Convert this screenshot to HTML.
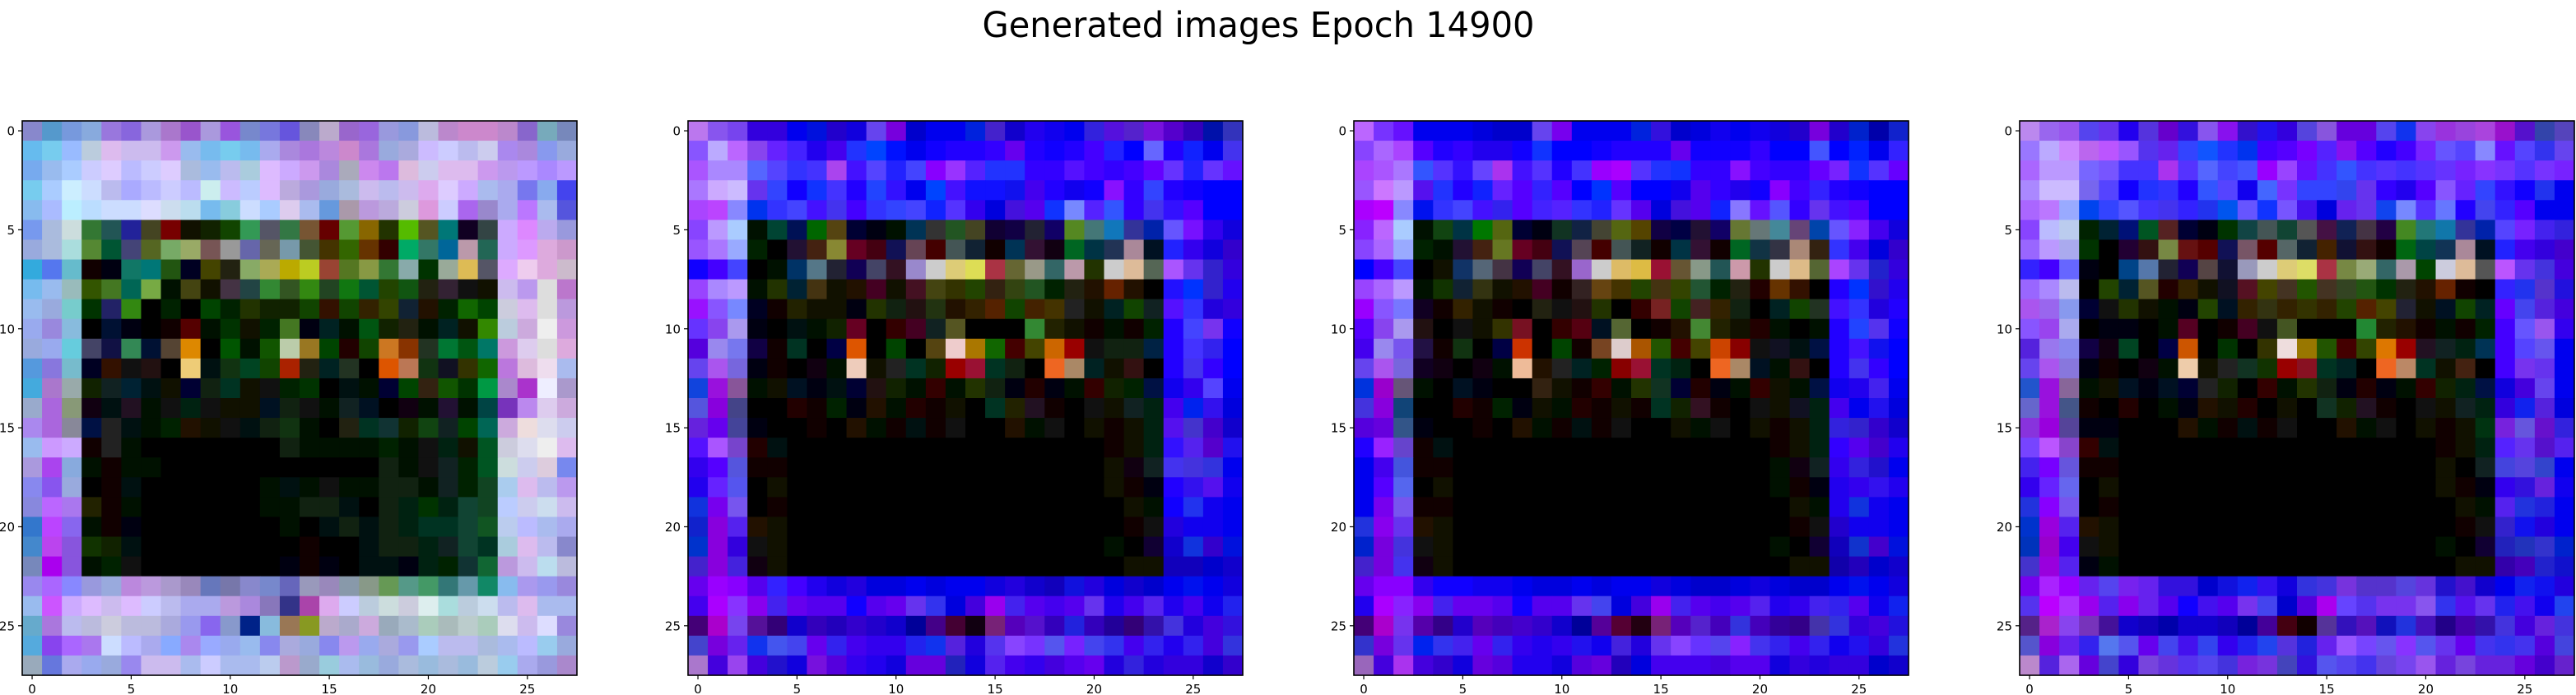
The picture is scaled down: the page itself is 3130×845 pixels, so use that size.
<!DOCTYPE html>
<html><head><meta charset="utf-8">
<style>html,body{margin:0;padding:0;background:#fff;}svg{display:block;}</style>
</head><body>
<svg id="fig" width="3130" height="845" viewBox="0 0 3130 845" xmlns="http://www.w3.org/2000/svg" font-family="'DejaVu Sans','Liberation Sans',sans-serif">
<rect width="3130" height="845" fill="#fff"/>
<text x="1529" y="45" font-size="43" text-anchor="middle" textLength="671" lengthAdjust="spacingAndGlyphs" fill="#000">Generated images Epoch 14900</text>
</svg>
<script>
const tickValues = [0, 5, 10, 15, 20, 25];
const panelLefts = [27, 836, 1645, 2454];
const Z16 = "000 000 000 000 000 000 000 000 000 000 000 000 000 000 000 000";
const image1 = [
"88c 59c 79d 8ad 97d 86d a9d a7c 95c a9d 95d 78c 77d 65d 88b bac 96c 96d 99d 89d bbd b8c c8c c8c b8c 86c 7ab 78b",
"6be 7ce 9bf bcd dbe cbe cbe c9e 9be 7be 7ce 7be aae a8d a7d b8d c8c a7d 9ad aad cbf ccf bbe cce a8e a8d 89e 9ad",
"7ae 9be acf ccf dcf bbf ccf dcf abd 9be bbe acd dbf caf c9e a8d aab c8e b7e dbd cce dbe dbe c9e b9e b9f a8f b9f",
"7ce acf cef cdf bbe aaf bbf ccf bbf cee cbf bcf dbf bad a9d 9ad abd cbe bbe cbe dae dcf caf abe aae 77e 8ae 44e",
"8be abf bef bdf cdf cdf ddf cde bde 7be 8cd cdf acf dce abe 69d a9a b9d bad ccd d9d ccf a6e 98c aae b7f abe 55d",
"79e abd cdd 373 255 229 442 700 110 120 140 395 556 374 753 600 593 860 230 5b0 552 077 102 344 caf d8f bae 99d",
"9ad abd add 583 053 447 562 7a6 9a6 755 999 66a 665 79a 453 430 360 630 300 0a6 376 069 b9a 265 caf d9f dad c9c",
"3ad 57e 6bc 100 001 176 077 251 002 440 221 8a6 aa5 ba0 bc2 943 572 894 373 8aa 030 9a9 db5 556 daf ece dad cbc",
"7be 9be 9bb 350 472 065 7a4 010 441 110 434 244 383 352 381 242 171 053 240 151 221 323 111 110 cbe b9e ddd b7c",
"9be 9ad 7cc 030 226 381 000 020 000 040 020 230 120 120 140 310 140 320 340 123 210 020 160 040 ccd dbe ddd b9d",
"9ae 98d 8bd 000 013 001 000 100 500 010 030 110 020 472 001 022 010 051 120 221 010 022 110 380 bcd cad eee c9d",
"9ad 9ae 6cd 446 114 385 013 543 d80 000 050 010 150 bca 972 040 200 140 c72 830 232 073 051 076 c9d dce ddd dad",
"59d 87d 7bc 002 310 111 211 000 ec7 011 131 042 140 a20 221 022 232 000 d50 b75 131 112 330 160 b7d dbd ede abe",
"4ad a7c 9aa 120 122 023 011 110 003 121 032 110 111 020 030 000 011 010 003 040 321 150 030 094 a8c a3c eef a9c",
"9ac a6d 897 101 011 212 010 111 021 111 110 110 012 121 111 010 122 012 000 101 010 213 010 044 73b b8e dce cad",
"a8e a6d 889 014 222 011 010 020 210 110 111 011 121 131 010 000 221 032 133 120 141 122 040 065 cad edd dde cce",
"9be c9f caf 100 222 010 000 000 000 000 000 000 000 121 010 010 010 010 020 010 111 021 110 052 ccd dde eee dbe",
"a9d a4e 8ad 010 100 010 010 000 000 000 000 000 000 000 000 000 000 000 121 010 111 122 020 052 cdd cce dcd 78e",
"88e 85e 9ad 000 100 011 000 000 000 000 000 000 010 011 010 111 010 010 121 121 010 122 020 142 ace dbe bbe b9e",
"88d b6f a7e 220 100 010 000 000 000 000 000 000 010 010 121 121 011 000 121 021 030 021 143 142 bcf cce cde cbe",
"37c b4f 86e 010 100 001 000 000 000 000 000 000 000 010 000 011 121 011 121 021 032 032 143 152 bce bbf abe aae",
"48c b4e 85d 130 120 011 000 000 000 000 000 000 000 000 100 000 000 011 121 121 021 122 143 032 acd dbe bbe 88c",
"78b a0e 85d 010 020 111 000 000 000 000 000 000 000 001 100 001 000 011 011 001 021 020 133 163 b9d cbe bde bbd",
"98e a6f 88f 99d 9ad b8d b9d a9c 98b 67b 77a 88c 78c 66b 99b 98b 89a 898 695 598 496 377 69a 186 8be a9e 99e 98d",
"9be c5f caf dbf cbe dbf ccf bbe aae aae b9d a8d 87b 338 a4a dae ccf bcd cdd ccd dee add bcd cde bbe dbe abe abe",
"6ac a7d bbe bbd ccd bbd bbd aad 99e 86e 89c 028 8bd 975 892 bac aac cad 9ab abc acb abb bcc acb dde cbe ddf 98d",
"5ad 84e a6f a7e cdf bbf aae 8af a8e 9af 9ae 9be 88e aad 9ad 88e b9e 9ae aad 99e acf bbe bbe abd abe bbf 9ce 9ad",
"9ab 67d aae 9ae 9ad 98e cbe cbe abe ccf abe abe bce b9c 9ac 9cd abe 9bd 9ad abd 9bd abd 9bd bcd 9ce aae 99d a8c"
];
const image2 = [
"b7e 85e 74e 30d 30d 00e 01d 20c 10d 64e 70d 00c 00e 00e 02d 42c 10c 20e 10e 00e 32d 51d 52c 71d 50c 30b 01a 33b",
"85f baf b6f 84e 62f 42f 20e 40e 23f 04f 01f 00e 10f 20f 20f 30f 60e 20f 10f 20f 40f 22f 00f 66f 20f 12f 00e 43e",
"a5f a8f a8f 56f 54f 33f 43f a4e 41f 54f 22f 44f 80f 93f 52f 23f 23f 30f 30f 51f 40f 30f 40f 60f 63f 22f 63f 61f",
"a7f caf cbf 63e 34f 10f 13f 43f 20f 24f 31f 00e 04f 41f 11f 11f 11e 40e 20f 10e 10f 81f 30f 34f 20f 10f 00f 00f",
"a4f b4f 88f 03e 33f 44f 41f 43e 40f 33f 34f 44f 12f 53f 30e 00d 41d 50e 13f 78f 52f 35f 30f 43e 31f 50f 00f 00f",
"84f b9f acf 010 043 015 060 541 003 001 010 035 333 252 442 103 104 223 106 582 477 17b 339 02a 65f 71f 30e 10d",
"95f a7f 9af 020 000 213 421 883 602 401 115 645 400 455 123 100 035 313 101 062 034 235 a89 012 22f 30e 10d 30c",
"10f 40f 44f 000 010 036 578 223 105 446 312 98c ccc dc7 dd5 a34 663 998 366 b9a 230 ccc db9 565 a5f 63e 32c 30d",
"94f a8f b9f 010 230 023 431 110 210 402 110 412 441 330 240 321 341 252 020 221 210 620 210 000 21f 03f 32c 20e",
"91f 85f 78f 002 100 220 110 110 001 230 121 211 231 210 320 520 140 420 430 222 110 022 140 122 51f 33f 20d 30d",
"63f 84e a9e 001 000 011 010 120 602 000 300 402 122 552 000 000 000 383 220 110 100 010 100 020 20f 44f 73e 10f",
"50d 98e 77e 104 100 032 000 004 d50 000 040 000 541 ecc a70 160 400 440 c60 900 111 121 121 024 20f 43f 32e 00f",
"64e a5e 76d 001 100 000 101 010 ecb 110 222 032 120 900 913 032 121 000 e62 a86 022 110 311 000 20f 43e 30f 00f",
"14d 91d 859 010 110 012 001 011 003 211 120 010 300 010 230 121 001 200 001 010 300 120 020 014 10e 30e 54f 00e",
"55d 80d 448 000 000 200 100 020 001 210 010 200 100 110 000 032 220 212 100 000 111 110 122 021 40e 02e 31e 00d",
"62d 60e 449 001 000 000 100 000 210 010 100 011 100 111 000 000 210 010 111 000 110 100 110 021 51e 43c 40c 10c",
"51f a5f 74c 200 011 " + Z16 + " 100 110 021 31f 52e 50c 21e",
"30e 50f 55d 100 100 " + Z16 + " 110 101 122 43e 43d 33d 00e",
"20e 62f 55e 000 110 " + Z16 + " 110 100 001 20f 31e 51e 10e",
"13d 70e 75e 000 100 " + Z16 + " 000 110 010 10f 23e 10e 00e",
"12c 80d 52e 210 110 " + Z16 + " 000 100 111 20d 10e 10e 00e",
"03c 80d 30d 111 110 " + Z16 + " 010 000 103 10c 13d 30c 01d",
"42c 80d 42d 101 110 " + Z16 + " 000 110 110 10b 10b 00c 10c",
"60e 90f 80f 50e 32f 40f 20e 10d 20d 00d 00d 00e 00d 00e 00e 10d 20d 10c 10b 11d 20d 00d 10c 00c 00e 01e 00e 10d",
"40e a0f 83f 80e 42e 60e 50e 50e 10f 50e 60e 63e 33e 00d 40d 90e 42e 50e 40e 50e 63e 20e 40e 52e 20e 40e 10e 22e",
"407 a0c 74e 519 307 10c 30b 20b 30c 20c 10c 009 408 403 101 727 50b 51c 30b 22d 30b 209 307 31a 43d 20d 40d 31d",
"44c 70d 62e 13e 45e 44e 60e 32e 40e 30e 30e 22e 13e 52d 20d 53e 84f 73f 55e 72f 44e 33e 40e 32e 20e 32e 40d 33d",
"a7c 40d 94e 40d 21c 10d 71d 50d 30e 20e 10d 60d 60d 22b 10d 52e 40e 30e 40d 50e 60e 20d 32d 20d 30d 30d 10c 30c"
];
const image3 = [
"b6f 73f 61f 00e 00e 00e 00d 00c 00c 64e 70e 00e 00e 00e 02d 31d 00c 00d 10e 00e 10e 10d 20c 70d 20c 02c 00a 12c",
"84f a6f a4f 50f 20f 30f 20e 20e 10f 13f 00f 00f 10f 20f 20f 20f 60e 10f 10f 10f 30f 00f 00f 45f 00f 02f 00e 32f",
"a4f a5f a7f 35f 53f 31f 64f a3e 41f 53f 20f 43f 90f a0f 53f 23f 13f 30f 30f 81f 40f 30f 30f 60f 72f 13f 53f 60f",
"95f c7f b9f 51e 23f 20f 12f 62f 50f 32f 50f 00f 03f 50f 00f 00f 10e 50e 30f 20e 10f 80f 40f 32f 20f 10f 00f 00f",
"a0f b0f 88f 01e 33f 44f 41f 32e 50f 42f 52f 33f 22f 63f 50e 00d 41d 50e 12f 87f 61f 55f 30f 63e 41f 50f 00f 00f",
"82f b6f acf 010 141 034 070 561 003 001 132 124 443 561 540 104 004 213 106 673 677 489 647 04a 65f 82f 40e 10d",
"84f a6f 9af 020 010 213 421 672 602 401 115 545 400 455 122 100 034 313 100 062 134 334 a87 321 33f 40e 00d 30c",
"00f 40f 44f 000 110 136 567 434 105 446 312 96c ccc db6 db4 913 653 898 255 c9a 230 ccc db8 563 a4f 63e 22c 30d",
"94f a6f b9f 010 130 123 331 110 210 402 100 322 641 430 240 431 340 253 020 221 200 630 310 000 20f 03f 31c 20e",
"90f 85f 77f 102 100 320 110 100 000 221 111 211 230 000 300 722 140 422 320 121 000 022 140 232 41f 33f 20d 20f",
"50f 84e a9e 211 000 111 110 330 712 000 300 501 012 563 000 100 210 483 220 110 200 010 000 010 20f 24f 53e 10f",
"40e 98e 75e 214 100 131 000 004 c30 000 040 100 742 dcc a50 250 400 440 c40 800 111 112 011 014 20f 41f 11e 00f",
"64e a5e 76d 102 101 000 101 010 eb9 210 222 022 020 800 913 032 021 000 e62 a86 012 010 311 000 20f 43e 30f 00f",
"03d 90c 657 010 000 012 001 000 000 321 110 100 300 010 230 132 003 200 001 010 300 110 010 014 10e 20e 42e 00e",
"43d 80d 147 000 000 200 100 020 001 110 010 200 100 110 100 032 120 312 100 000 111 110 112 021 40e 00e 21e 00d",
"50d 60d 358 001 000 000 100 000 210 010 100 011 100 111 000 000 110 010 111 000 110 100 110 021 32d 32c 30c 10c",
"20f 92f 64c 100 011 " + Z16 + " 100 110 021 30f 50e 40c 20e",
"00e 40e 45d 100 100 " + Z16 + " 010 101 122 30e 32d 21c 00e",
"00e 50f 56e 000 110 " + Z16 + " 010 100 001 20e 30e 31e 20e",
"00e 70e 75e 100 100 " + Z16 + " 000 110 010 20e 13d 10e 00e",
"23d 80e 63e 210 110 " + Z16 + " 000 100 111 20c 10e 10e 00e",
"02c 70d 43d 111 110 " + Z16 + " 010 000 103 10b 13c 40c 01d",
"42c 70d 43e 101 110 " + Z16 + " 000 110 110 10a 20b 00c 10c",
"60e 80f 80f 30e 10f 10f 10e 10e 00e 00d 00d 00e 00d 00e 00e 10d 00d 00c 00c 00d 10d 00d 00c 00c 00e 01e 00e 10d",
"20e a0f 82f 80e 42e 60e 60e 50e 10f 50e 50e 63e 44e 00d 40d 90e 42e 50e 40e 50e 52e 20e 30e 42e 32e 50e 10e 12e",
"407 a0c 73e 50a 308 20c 50b 40b 40c 30c 10c 009 509 503 201 727 50b 52c 40b 33d 40b 309 308 43a 33d 30d 40d 21d",
"33c 70d 63e 02e 33e 42e 60e 32e 30e 20e 30e 21e 10e 42d 20d 63e 84f 63f 54e 82f 43e 32e 40e 32e 10e 21e 30d 23d",
"96b 40d a3e 40d 30c 10d 60d 50d 20e 20e 10d 50d 60d 20b 00d 40e 40e 40e 40d 50e 50e 10d 30d 20d 30d 30d 00c 10c"
];
const image4 = [
"b8e 96e 95e 54e 63e 20e 53d 60c 31d 85e 81e 31c 21e 30d 54d 85d 60d 60d 54e 13e 84e 93d 94d a4d 91c 51c 34a 54b",
"97f baf c8f b6e b5f 95f 53e 62e 34f 15f 23f 03e 40f 50f 70f 52f 81e 50f 20f 40f 72f 65f 54f 88f 61f 54f 33e 64e",
"a6f b9f b9f 76f 75f 43f 43f a3e 53f 56f 44f 45f 90f 94f 61f 43f 35f 43f 53f 43f 53f 63f 72f 83f 73f 53f 73f 72f",
"a8f cbf cbf 76e 54f 10f 23f 33f 20f 35f 54f 10e 46f 73f 34f 34f 34e 63e 30f 20e 50f 85f 62f 34f 31f 10f 23e 00e",
"a6f b7f 9af 04e 34f 55f 43f 43e 32f 23e 05e 65f 13f 75f 41e 00d 62e 63e 14e 78f 53f 67f 20f 44e 32f 50f 00e 00e",
"84f bbf bce 020 023 017 052 522 003 001 030 144 455 143 555 414 125 434 204 482 277 17a 339 02a 54f 72f 42e 32d",
"96f b9f aae 030 000 203 311 784 611 500 115 756 500 566 123 420 113 311 100 061 044 135 a89 012 22f 40e 30d 40c",
"32f 40f 66f 001 000 048 57a 223 105 544 113 99b ccc dc7 dd6 a34 784 9a7 366 a9a 040 ccd db9 555 b5f 63e 43d 40d",
"96f a8f bbe 000 240 023 552 200 320 110 112 512 440 432 250 432 342 251 030 221 210 620 100 000 32f 23e 53c 21d",
"a5e 96e 89e 003 111 230 110 010 001 240 012 320 331 320 330 320 240 520 440 223 110 012 140 022 60f 44e 52d 40d",
"85f 94e aae 000 001 001 000 010 502 000 100 402 111 452 000 000 000 283 220 210 100 010 100 020 40f 65f 95e 30e",
"52d 97e 88e 104 101 042 000 004 c50 000 030 000 330 edd 970 250 400 340 d70 900 212 122 021 035 40f 54f 65e 00e",
"64e a5e 87d 001 100 000 101 010 eca 110 222 132 130 900 812 032 022 000 e62 b86 032 110 421 000 40f 73e 63e 00e",
"25c 91d 869 010 110 012 001 012 003 222 120 000 300 010 230 121 001 200 001 010 300 120 021 014 10d 40d 64e 00e",
"66c 91d 458 100 000 200 000 010 001 210 110 200 000 110 000 132 120 212 100 000 111 110 122 021 30d 12e 52d 00d",
"83d 90d 549 001 001 000 000 000 210 010 100 011 100 111 000 000 210 010 111 000 110 100 110 031 72d 65d 61c 32d",
"74f b5f 84c 300 011 " + Z16 + " 100 110 021 52f 63e 51c 52e",
"42e 70f 65d 100 100 " + Z16 + " 110 000 122 44d 54d 34c 00e",
"30e 62f 66e 000 110 " + Z16 + " 110 100 001 30e 31d 62d 10e",
"23d 80f 75e 000 100 " + Z16 + " 000 110 010 52e 23d 22d 00e",
"03c 90d 52e 210 110 " + Z16 + " 000 100 111 32c 11e 20d 00e",
"03b 90c 40e 111 110 " + Z16 + " 010 000 103 22b 23b 33c 02c",
"43c 90d 52e 001 010 " + Z16 + " 000 110 110 30a 40b 22c 11c",
"70e a2f 90f 62e 54e 72e 62e 31d 31d 00c 11d 12e 31e 10d 33d 43d 73d 53c 53c 54d 63d 21c 41c 10c 00e 12e 11e 20d",
"53e b0f a3f 90e 52e 80e 62e 50e 10f 41e 50e 73e 44e 00c 50d a0e 64f 53e 73e 73e 85e 33e 51e 63e 22e 41e 10e 24e",
"528 a2c 84e 73b 419 10c 10b 00a 10c 10c 10b 009 409 401 100 539 31b 51b 11b 23d 41b 208 40a 31a 43d 40d 62d 43d",
"55c 80d 62e 32e 57e 55e 60e 44e 41e 34e 30e 22e 24e 53d 22d 62e 95f 74f 65e 83f 55e 63e 60e 43e 33e 43e 50d 44d",
"b8c 52d a6e 60d 44c 30d 74d 63d 53e 54e 43d 72d 73d 44b 31d 55e 54e 43e 64d 74e 95e 62d 74d 62d 62d 60d 40c 62c"
];
const images = [image1, image2, image3, image4];

const svg = document.getElementById('fig');
const NS = 'http://www.w3.org/2000/svg';
const AX_TOP = 147, AX_SIZE = 674, N = 28;
function xScale(p, col) { return panelLefts[p] + col * AX_SIZE / N; }
function yScale(row) { return AX_TOP + row * AX_SIZE / N; }
function expand(h) { return '#' + h[0] + h[0] + h[1] + h[1] + h[2] + h[2]; }

images.forEach((img, p) => {
  const g = document.createElementNS(NS, 'g');
  
  
  svg.appendChild(g);
  const cw = AX_SIZE / N;
  img.forEach((rowStr, r) => {
    const cells = rowStr.trim().split(/\s+/);
    cells.forEach((c, k) => {
      const rect = document.createElementNS(NS, 'rect');
      rect.setAttribute('x', xScale(p, k).toFixed(2));
      rect.setAttribute('y', yScale(r).toFixed(2));
      rect.setAttribute('width', (cw + 0.6).toFixed(2));
      rect.setAttribute('height', (cw + 0.6).toFixed(2));
      rect.setAttribute('fill', expand(c));
      
      
      g.appendChild(rect);
    });
  });
  const frame = document.createElementNS(NS, 'rect');
  frame.setAttribute('x', panelLefts[p]);
  frame.setAttribute('y', AX_TOP);
  frame.setAttribute('width', AX_SIZE);
  frame.setAttribute('height', AX_SIZE);
  frame.setAttribute('fill', 'none');
  frame.setAttribute('stroke', '#000');
  frame.setAttribute('stroke-width', '1.6');
  
  
  g.appendChild(frame);
  tickValues.forEach(t => {
    const cy = yScale(t) + cw / 2;
    const yt = document.createElementNS(NS, 'line');
    yt.setAttribute('x1', panelLefts[p] - 5); yt.setAttribute('x2', panelLefts[p]);
    yt.setAttribute('y1', cy); yt.setAttribute('y2', cy);
    yt.setAttribute('stroke', '#000'); yt.setAttribute('stroke-width', '1.2');
    
    
    g.appendChild(yt);
    const yl = document.createElementNS(NS, 'text');
    yl.setAttribute('x', panelLefts[p] - 9); yl.setAttribute('y', cy + 5.5);
    yl.setAttribute('font-size', '15'); yl.setAttribute('text-anchor', 'end');
    yl.textContent = t;
    
    
    g.appendChild(yl);
    const cx = xScale(p, t) + cw / 2;
    const xt = document.createElementNS(NS, 'line');
    xt.setAttribute('x1', cx); xt.setAttribute('x2', cx);
    xt.setAttribute('y1', AX_TOP + AX_SIZE); xt.setAttribute('y2', AX_TOP + AX_SIZE + 5);
    xt.setAttribute('stroke', '#000'); xt.setAttribute('stroke-width', '1.2');
    
    
    g.appendChild(xt);
    const xl = document.createElementNS(NS, 'text');
    xl.setAttribute('x', cx); xl.setAttribute('y', AX_TOP + AX_SIZE + 22);
    xl.setAttribute('font-size', '15'); xl.setAttribute('text-anchor', 'middle');
    xl.textContent = t;
    
    
    g.appendChild(xl);
  });
});
</script>
</body></html>
